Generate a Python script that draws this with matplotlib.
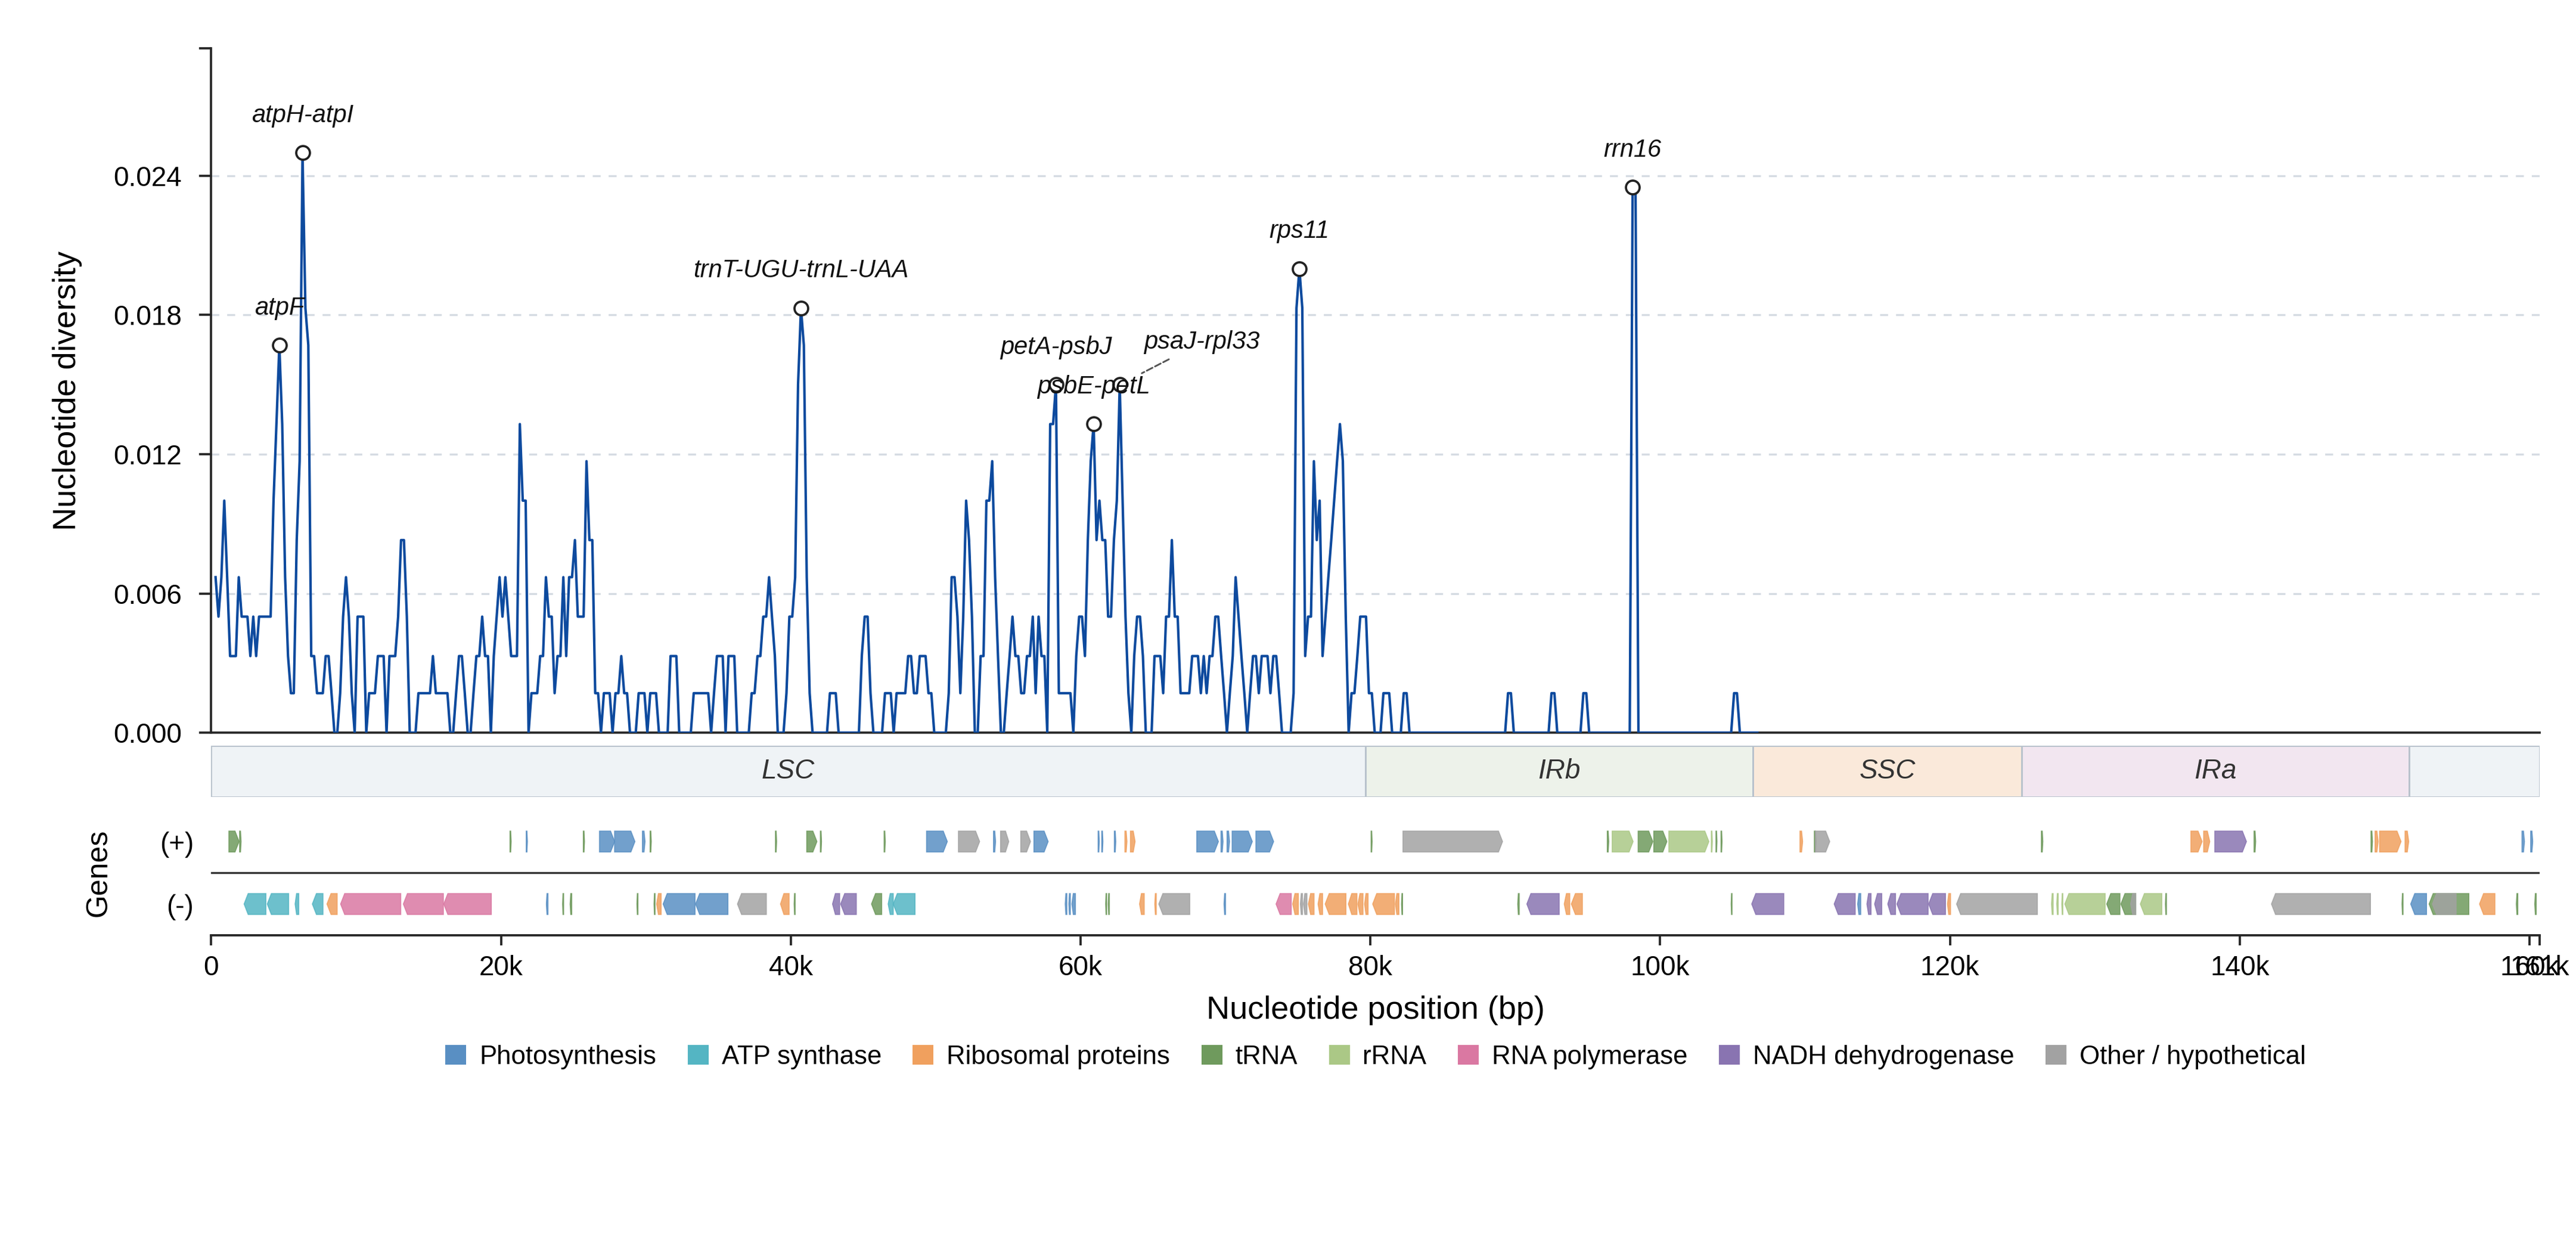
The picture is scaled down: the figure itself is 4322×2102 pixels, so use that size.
import numpy as np
import matplotlib.pyplot as plt
from matplotlib.patches import Polygon, Rectangle, Patch

plt.rcParams['font.family'] = ['Liberation Sans', 'DejaVu Sans']

GENOME_LEN = 160700
FIRST_MID = 300      # centre of first 600 bp window
STEP = 200           # sliding window step (bp)

# nucleotide diversity (Pi) per window
pi = [
    .0067, .005, .0067, .01, .0067, .0033, .0033, .0033, .0067, .005, .005, .005, .0033, .005, .0033, .005, .005, .005, .005, .005,
    .01, .0133, .0167, .0133, .0067, .0033, .0017, .0017, .0083, .0117, .025, .0183, .0167, .0033, .0033, .0017, .0017, .0017, .0033, .0033,
    .0017, 0, 0, .0017, .005, .0067, .005, .0017, 0, .005, .005, .005, 0, .0017, .0017, .0017, .0033, .0033, .0033, 0,
    .0033, .0033, .0033, .005, .0083, .0083, .005, 0, 0, 0, .0017, .0017, .0017, .0017, .0017, .0033, .0017, .0017, .0017, .0017,
    .0017, 0, 0, .0017, .0033, .0033, .0017, 0, 0, .0017, .0033, .0033, .005, .0033, .0033, 0, .0033, .005, .0067, .005,
    .0067, .005, .0033, .0033, .0033, .0133, .01, .01, 0, .0017, .0017, .0017, .0033, .0033, .0067, .005, .005, .0017, .0033, .0033,
    .0067, .0033, .0067, .0067, .0083, .005, .005, .005, .0117, .0083, .0083, .0017, .0017, 0, .0017, .0017, .0017, 0, .0017, .0017,
    .0033, .0017, .0017, 0, 0, 0, .0017, .0017, .0017, 0, .0017, .0017, .0017, 0, 0, 0, 0, .0033, .0033, .0033,
    0, 0, 0, 0, 0, .0017, .0017, .0017, .0017, .0017, .0017, 0, .0017, .0033, .0033, .0033, 0, .0033, .0033, .0033,
    0, 0, 0, 0, 0, .0017, .0017, .0033, .0033, .005, .005, .0067, .005, .0033, 0, 0, 0, .0017, .005, .005,
    .0067, .015, .0183, .0167, .0067, .0017, 0, 0, 0, 0, 0, 0, .0017, .0017, .0017, 0, 0, 0, 0, 0,
    0, 0, 0, .0033, .005, .005, .0017, 0, 0, 0, 0, .0017, .0017, .0017, 0, .0017, .0017, .0017, .0017, .0033,
    .0033, .0017, .0017, .0033, .0033, .0033, .0017, .0017, 0, 0, 0, 0, 0, .0017, .0067, .0067, .005, .0017, .005, .01,
    .0083, .005, 0, 0, .0033, .0033, .01, .01, .0117, .0067, .0033, 0, 0, .0017, .0033, .005, .0033, .0033, .0017, .0017,
    .0033, .0033, .005, .0017, .005, .0033, .0033, 0, .0133, .0133, .015, .0017, .0017, .0017, .0017, .0017, 0, .0033, .005, .005,
    .0033, .0083, .0117, .0133, .0083, .01, .0083, .0083, .005, .005, .0083, .01, .015, .01, .005, .0017, 0, .0033, .005, .005,
    .0033, 0, 0, 0, .0033, .0033, .0033, .0017, .005, .005, .0083, .005, .005, .0017, .0017, .0017, .0017, .0033, .0033, .0033,
    .0017, .0033, .0017, .0033, .0033, .005, .005, .0033, .0017, 0, .0017, .0033, .0067, .005, .0033, .0017, 0, .0017, .0033, .0033,
    .0017, .0033, .0033, .0033, .0017, .0033, .0033, .0017, 0, 0, 0, 0, .0017, .0183, .02, .0183, .0033, .005, .005, .0117,
    .0083, .01, .0033, .005, .0067, .0083, .01, .0117, .0133, .0117, .005, 0, .0017, .0017, .0033, .005, .005, .005, .0017, .0017,
    0, 0, 0, .0017, .0017, .0017, 0, 0, 0, 0, .0017, .0017, 0, 0, 0, 0, 0, 0, 0, 0,
    0, 0, 0, 0, 0, 0, 0, 0, 0, 0, 0, 0, 0, 0, 0, 0, 0, 0, 0, 0,
    0, 0, 0, 0, 0, 0, .0017, .0017, 0, 0, 0, 0, 0, 0, 0, 0, 0, 0, 0, 0,
    0, .0017, .0017, 0, 0, 0, 0, 0, 0, 0, 0, 0, .0017, .0017, 0, 0, 0, 0, 0, 0,
    0, 0, 0, 0, 0, 0, 0, 0, 0, .0235, .0233, 0, 0, 0, 0, 0, 0, 0, 0, 0,
    0, 0, 0, 0, 0, 0, 0, 0, 0, 0, 0, 0, 0, 0, 0, 0, 0, 0, 0, 0,
    0, 0, 0, 0, .0017, .0017, 0, 0, 0, 0, 0, 0, 0,
]

# highlighted hotspots (window centre, bp)
peak_names = ['atpF', 'atpH-atpI', 'trnT-UGU-trnL-UAA', 'petA-psbJ',
              'psbE-petL', 'psaJ-rpl33', 'rps11', 'rrn16']
peak_pos = [4700, 6300, 40700, 58300, 60900, 62700, 75100, 98100]

# genome regions
region_names = ['LSC', 'IRb', 'SSC', 'IRa', '']
region_start = [0, 79650, 106400, 124950, 151700]
region_end = [79650, 106400, 124950, 151700, 160700]
region_colors = ['#eff3f6', '#edf2ea', '#fae9da', '#f2e6f0', '#eff3f6']

# genes on the (+) strand
plus_start = [1220, 1960, 20620, 21740, 25680, 26800, 27840, 29760, 30290, 38940,
              41100, 42040, 46440, 49370, 51570, 53990, 54480, 55870, 56780, 61210,
              61460, 62330, 63060, 63440, 68020, 69690, 70110, 70460, 72100, 80050,
              82250, 96350, 96690, 98480, 99560, 100600, 103530, 103850, 104200, 109650,
              110640, 110710, 126310, 136630, 137510, 138280, 140990, 149060, 149340, 149650,
              151410, 159480, 160080]
plus_end = [1920, 2060, 20700, 21820, 25760, 27840, 29240, 29940, 30370, 39020,
            41800, 42120, 46520, 50800, 53030, 54130, 55040, 56540, 57760, 61290,
            61540, 62430, 63200, 63760, 69510, 69830, 70280, 71850, 73320, 80120,
            89120, 96450, 98130, 99490, 100460, 103360, 103600, 103920, 104270, 109830,
            110750, 111700, 126410, 137400, 137930, 140460, 141100, 149160, 149550, 151130,
            151660, 159650, 160220]
plus_cat = ['TRNA', 'TRNA', 'TRNA', 'PS', 'TRNA', 'PS', 'PS', 'PS', 'TRNA', 'TRNA',
            'TRNA', 'TRNA', 'TRNA', 'PS', 'OTH', 'PS', 'OTH', 'OTH', 'PS', 'PS',
            'PS', 'PS', 'RIB', 'RIB', 'PS', 'PS', 'PS', 'PS', 'PS', 'TRNA',
            'OTH', 'TRNA', 'RRNA', 'TRNA', 'TRNA', 'RRNA', 'RRNA', 'TRNA', 'TRNA', 'RIB',
            'TRNA', 'OTH', 'TRNA', 'RIB', 'RIB', 'NDH', 'TRNA', 'TRNA', 'RIB', 'RIB',
            'RIB', 'PS', 'PS']

# genes on the (-) strand
minus_start = [2270, 3870, 5790, 6980, 7990, 8930, 13260, 16050, 23130, 24250,
               24770, 29380, 30560, 30740, 31190, 33430, 36320, 39290, 40230, 42880,
               43440, 45570, 46720, 47070, 58940, 59190, 59400, 61730, 61910, 64070,
               65120, 65400, 69900, 73490, 74640, 75170, 75380, 75720, 76390, 76880,
               78480, 79140, 79600, 80160, 81730, 82150, 90170, 90800, 93380, 93870,
               104900, 106320, 112010, 113630, 114270, 114800, 115710, 116340, 118530, 119830,
               120460, 127010, 127370, 127720, 127930, 130820, 131800, 132470, 133140, 134870,
               142190, 151200, 151800, 153070, 153300, 156550, 159090, 160360]
minus_end = [3770, 5340, 6040, 7710, 8690, 13080, 16020, 19330, 23240, 24320,
             24880, 29450, 30630, 31050, 33390, 35660, 38310, 39880, 40300, 43370,
             44520, 46270, 47070, 48570, 59050, 59290, 59640, 61800, 61980, 64390,
             65220, 67530, 70000, 74540, 75030, 75310, 75620, 76110, 76700, 78310,
             79070, 79490, 79840, 81660, 81970, 82220, 90270, 93030, 93760, 94630,
             104960, 108530, 113460, 113840, 114550, 115290, 116240, 118490, 119690, 120040,
             126030, 127120, 127470, 127790, 130710, 131730, 132820, 132820, 134620, 134940,
             149020, 151270, 152890, 155810, 154930, 157610, 159190, 160460]
minus_cat = ['ATP', 'ATP', 'ATP', 'ATP', 'RIB', 'RPO', 'RPO', 'RPO', 'PS', 'TRNA',
             'TRNA', 'TRNA', 'TRNA', 'RIB', 'PS', 'PS', 'OTH', 'RIB', 'TRNA', 'NDH',
             'NDH', 'TRNA', 'ATP', 'ATP', 'PS', 'PS', 'PS', 'TRNA', 'TRNA', 'RIB',
             'RIB', 'OTH', 'PS', 'RPO', 'RIB', 'OTH', 'OTH', 'RIB', 'RIB', 'RIB',
             'RIB', 'RIB', 'RIB', 'RIB', 'RIB', 'TRNA', 'TRNA', 'NDH', 'RIB', 'RIB',
             'TRNA', 'NDH', 'NDH', 'PS', 'NDH', 'NDH', 'NDH', 'NDH', 'NDH', 'RIB',
             'OTH', 'RRNA', 'RRNA', 'RRNA', 'RRNA', 'TRNA', 'TRNA', 'OTH', 'RRNA', 'TRNA',
             'OTH', 'TRNA', 'PS', 'TRNA', 'OTH', 'RIB', 'TRNA', 'TRNA']

cat_keys = ['PS', 'ATP', 'RIB', 'TRNA', 'RRNA', 'RPO', 'NDH', 'OTH']
cat_labels = ['Photosynthesis', 'ATP synthase', 'Ribosomal proteins', 'tRNA', 'rRNA',
              'RNA polymerase', 'NADH dehydrogenase', 'Other / hypothetical']
cat_colors = ['#598fc3', '#54b5c3', '#f0a05e', '#6f9a5d', '#abc886',
              '#da78a2', '#8974b1', '#a2a2a2']
cat_color = dict(zip(cat_keys, cat_colors))

x_ticks = [0, 20000, 40000, 60000, 80000, 100000, 120000, 140000, 160000, 160700]
x_ticklabels = ['0', '20k', '40k', '60k', '80k', '100k', '120k', '140k', '160k', '161k']

y_ticks = [0, 0.006, 0.012, 0.018, 0.024]

# ---------------- figure ----------------
fig = plt.figure(figsize=(4322 / 300, 2102 / 300), dpi=300)
L, W = 0.0820, 0.9039
ax = fig.add_axes([L, 0.4153, W, 0.5462])
ax_reg = fig.add_axes([L, 0.3639, W, 0.0410])
ax_gene = fig.add_axes([L, 0.2536, W, 0.0997])

spine_c = '#262626'

# diversity curve
win_mid = FIRST_MID + STEP * np.arange(len(pi))
pi_arr = np.array(pi)
ax.plot(win_mid, pi_arr, color='#0d4a9e', lw=1.0, zorder=3)

for yv in y_ticks[1:]:
    ax.axhline(yv, color='#d5dbe2', lw=0.8, ls=(0, (4, 4)), zorder=1)

for name, pos in zip(peak_names, peak_pos):
    k = int(np.argmin(np.abs(win_mid - pos)))
    xv, yv = win_mid[k], pi_arr[k]
    ax.plot(xv, yv, 'o', ms=5.5, mfc='white', mec='#222222', mew=0.9, zorder=4)
    if name == 'psaJ-rpl33':
        ax.annotate(name, (xv, yv), xytext=(33, 17), textcoords='offset points',
                    ha='center', va='center', fontsize=10, style='italic', color='#111111',
                    arrowprops=dict(arrowstyle='-', color='#555555', lw=0.7, ls='--',
                                    shrinkA=0, shrinkB=10), zorder=5)
    else:
        ax.annotate(name, (xv, yv), xytext=(0, 15), textcoords='offset points',
                    ha='center', va='center', fontsize=10, style='italic', color='#111111',
                    zorder=5)

ax.set_xlim(0, GENOME_LEN)
ax.set_ylim(0, 0.0295)
ax.set_yticks(y_ticks + [0.0295])
ax.set_yticklabels(['%.3f' % v for v in y_ticks] + [''])
ax.tick_params(axis='y', labelsize=11, length=4.8, width=0.9, color=spine_c, pad=7)
ax.tick_params(axis='x', bottom=False, labelbottom=False)
for s in ['top', 'right']:
    ax.spines[s].set_visible(False)
for s in ['left', 'bottom']:
    ax.spines[s].set_color(spine_c)
    ax.spines[s].set_linewidth(0.9)
ax.set_ylabel('Nucleotide diversity', fontsize=13)
ax.yaxis.set_label_coords(-0.0555, 0.5)

# region band
for name, s, e, c in zip(region_names, region_start, region_end, region_colors):
    ax_reg.add_patch(Rectangle((s, 0), e - s, 1, facecolor=c, edgecolor='#b8c2cc', lw=0.7))
    if name:
        ax_reg.text((s + e) / 2, 0.5, name, ha='center', va='center', fontsize=11,
                    style='italic', color='#333333')
ax_reg.set_xlim(0, GENOME_LEN)
ax_reg.set_ylim(0, 1)
ax_reg.axis('off')


# gene track
def gene_arrow(start, end, yc, forward, color):
    h = 0.167
    head = min(280, 0.4 * (end - start))
    if forward:
        pts = [(start, yc - h), (end - head, yc - h), (end, yc), (end - head, yc + h), (start, yc + h)]
    else:
        pts = [(end, yc - h), (start + head, yc - h), (start, yc), (start + head, yc + h), (end, yc + h)]
    ax_gene.add_patch(Polygon(pts, closed=True, facecolor=color, edgecolor=color,
                              lw=0.4, alpha=0.85))


for s, e, c in zip(plus_start, plus_end, plus_cat):
    gene_arrow(s, e, 1.5, True, cat_color[c])
for s, e, c in zip(minus_start, minus_end, minus_cat):
    gene_arrow(s, e, 0.5, False, cat_color[c])

ax_gene.axhline(1.0, color='#333333', lw=0.8)
ax_gene.set_xlim(0, GENOME_LEN)
ax_gene.set_ylim(0, 2)
ax_gene.set_yticks([0.5, 1.5])
ax_gene.set_yticklabels(['(-)', '(+)'])
ax_gene.tick_params(axis='y', length=0, pad=7, labelsize=11)
ax_gene.set_xticks(x_ticks)
ax_gene.set_xticklabels(x_ticklabels)
ax_gene.tick_params(axis='x', labelsize=11, length=4, width=0.9, color=spine_c, pad=4)
for s in ['top', 'right', 'left']:
    ax_gene.spines[s].set_visible(False)
ax_gene.spines['bottom'].set_color(spine_c)
ax_gene.spines['bottom'].set_linewidth(0.9)
ax_gene.set_ylabel('Genes', fontsize=12)
ax_gene.yaxis.set_label_coords(-0.0424, 0.5)
ax_gene.set_xlabel('Nucleotide position (bp)', fontsize=13)
ax_gene.xaxis.set_label_coords(0.5, -0.48)

handles = [Patch(facecolor=c, edgecolor='none') for c in cat_colors]
fig.legend(handles, cat_labels, loc='center', bbox_to_anchor=(0.534, 0.1565), ncol=8,
           frameon=False, fontsize=10.5, handlelength=0.8, handleheight=0.8,
           handletextpad=0.5, columnspacing=1.2)

fig.savefig('out.png', dpi=300)
